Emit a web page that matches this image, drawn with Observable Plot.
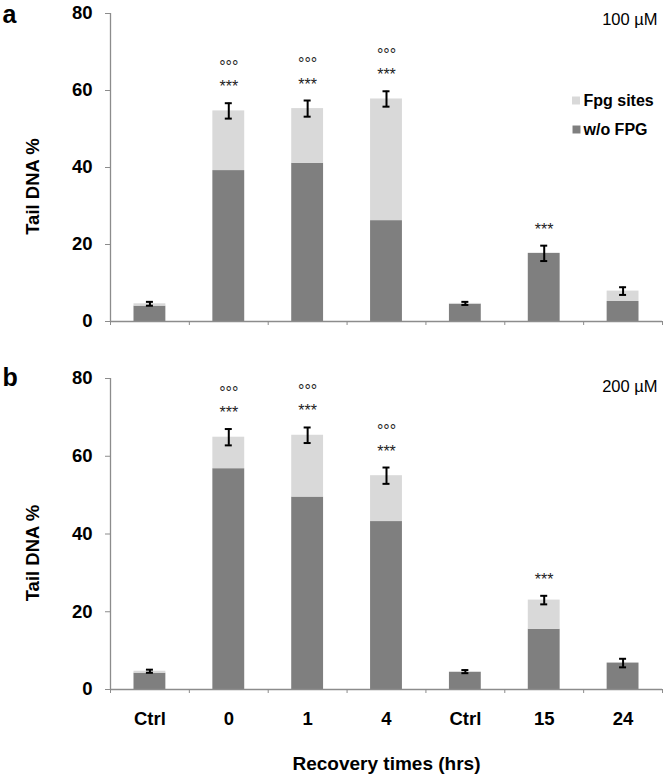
<!DOCTYPE html>
<html>
<head>
<meta charset="utf-8">
<script src="https://cdn.jsdelivr.net/npm/d3@7"></script>
<script src="https://cdn.jsdelivr.net/npm/@observablehq/plot@0.6"></script>
<style>
  html, body { margin: 0; padding: 0; background: #fff; }
  #chart { width: 665px; }
  #chart svg { display: block; overflow: visible; }
  g[aria-label="y-axis tick"], g[aria-label="x-axis tick"] { stroke: #8c8c8c; }
</style>
</head>
<body>
<div id="chart"></div>
<script>
// ---- data ----
const categories = ["Ctrl", "0", "1", "4", "Ctrl", "15", "24"];
const seriesNames = ["Fpg sites", "w/o FPG"];
const yTicks = [0, 20, 40, 60, 80];

// Panel a (100 µM)
const darkA = [4.0, 39.2, 41.1, 26.2, 4.5, 17.7, 5.2];
const fpgA  = [0.6, 15.5, 14.2, 31.6, 0.2, 0.0, 2.7];
const errA  = [0.5, 2.0, 2.1, 2.0, 0.4, 2.0, 1.0];
const starsA   = ["", "***", "***", "***", "", "***", ""];
const circlesA = ["", "°°°", "°°°", "°°°", "", "", ""];

// Panel b (200 µM)
const darkB = [4.2, 56.8, 49.5, 43.2, 4.4, 15.5, 6.8];
const fpgB  = [0.5, 8.1, 15.9, 11.8, 0.2, 7.5, 0.0];
const errB  = [0.4, 2.1, 2.0, 2.1, 0.4, 1.1, 1.1];
const starsB   = ["", "***", "***", "***", "", "***", ""];
const circlesB = ["", "°°°", "°°°", "°°°", "", "", ""];

const DARK = "#7f7f7f", LIGHT = "#d9d9d9", AXIS = "#8c8c8c";
const FONT = "'Liberation Sans', Arial, sans-serif";

function panel({dark, fpg, err, stars, circles, conc, letter, marginTop, height, marginBottom, showX, letterDy, concDy}) {
  const rows = categories.map((c, i) => ({
    i, cat: c, dark: dark[i], total: dark[i] + fpg[i], err: err[i],
    stars: stars[i], circles: circles[i]
  }));
  const inset = 23.5;
  const marks = [
    Plot.rect(rows, {x1: "i", x2: d => d.i + 1, y1: 0, y2: "dark", fill: DARK, insetLeft: inset, insetRight: inset}),
    Plot.rect(rows.filter(d => d.total > d.dark), {x1: "i", x2: d => d.i + 1, y1: "dark", y2: "total", fill: LIGHT, insetLeft: inset, insetRight: inset}),
    Plot.ruleY([0], {stroke: AXIS, strokeWidth: 1.3}),
    Plot.ruleX([0], {stroke: AXIS, strokeWidth: 1.3}),
    // error bars
    Plot.ruleX(rows, {x: d => d.i + 0.5, y1: d => d.total - d.err, y2: d => d.total + d.err, stroke: "black", strokeWidth: 2}),
    Plot.ruleY(rows, {y: d => d.total + d.err, x1: d => d.i + 0.5, x2: d => d.i + 0.5, insetLeft: -3.5, insetRight: -3.5, stroke: "black", strokeWidth: 2}),
    Plot.ruleY(rows, {y: d => d.total - d.err, x1: d => d.i + 0.5, x2: d => d.i + 0.5, insetLeft: -3.5, insetRight: -3.5, stroke: "black", strokeWidth: 2}),
    // significance marks
    Plot.text(rows.filter(d => d.stars), {x: d => d.i + 0.5, y: d => d.total + d.err, text: "stars", lineAnchor: "bottom", dy: -11, fontSize: 16, fill: "#222"}),
    Plot.text(rows.filter(d => d.circles), {x: d => d.i + 0.5, y: d => d.total + d.err, text: "circles", lineAnchor: "bottom", dy: -31.5, fontSize: 16, fill: "#222"}),
    // axes
    Plot.axisY({ticks: yTicks, tickSize: 5, tickPadding: 13, label: null, fontSize: 18.5, fontWeight: "bold", fill: "black"}),
    Plot.axisX({ticks: d3.range(categories.length + 1), tickSize: 4, tickFormat: () => "", label: null}),
    // labels
    Plot.text([letter], {frameAnchor: "top-left", dx: -108, dy: letterDy, lineAnchor: "bottom", textAnchor: "start", fontSize: 25, fontWeight: "bold", fill: "black"}),
    Plot.text([conc], {frameAnchor: "top-right", dx: -5, dy: concDy, lineAnchor: "middle", textAnchor: "end", fontSize: 16.5, fill: "black"}),
    Plot.text(["Tail DNA %"], {frameAnchor: "left", dx: -77, dy: 19, rotate: -90, lineAnchor: "middle", textAnchor: "middle", fontSize: 18.5, fontWeight: "bold", fill: "black"})
  ];
  if (showX) {
    marks.push(
      Plot.axisX({ticks: d3.range(categories.length).map(i => i + 0.5), tickSize: 0, tickPadding: 22, tickFormat: v => categories[Math.floor(v)], label: null, fontSize: 18.5, fontWeight: "bold", fill: "black"}),
      Plot.text(["Recovery times (hrs)"], {frameAnchor: "bottom", dy: 80, lineAnchor: "bottom", textAnchor: "middle", fontSize: 19, fontWeight: "bold", fill: "black"})
    );
  } else {
    // legend
    const legendFills = [LIGHT, DARK];
    seriesNames.forEach((name, k) => {
      marks.push(
        Plot.dot([name], {frameAnchor: "top-right", dx: -86.5 + 0.5 * k, dy: 87 + 29 * k, symbol: "square", r: 4.5, fill: legendFills[k], stroke: null}),
        Plot.text([name], {frameAnchor: "top-right", dx: -79, dy: 87 + 29 * k, lineAnchor: "middle", textAnchor: "start", fontSize: 16, fontWeight: "bold", fill: "black"})
      );
    });
  }
  return Plot.plot({
    width: 665, height, marginTop, marginBottom, marginLeft: 110, marginRight: 3,
    style: {fontFamily: FONT, background: "white", overflow: "visible"},
    x: {domain: [0, categories.length], axis: null},
    y: {domain: [0, 80], axis: null},
    marks
  });
}

const chart = document.getElementById("chart");
chart.append(panel({dark: darkA, fpg: fpgA, err: errA, stars: starsA, circles: circlesA, conc: "100 µM", letter: "a",
  marginTop: 13, height: 340, marginBottom: 19, showX: false, letterDy: 9, concDy: 6}));
chart.append(panel({dark: darkB, fpg: fpgB, err: errB, stars: starsB, circles: circlesB, conc: "200 µM", letter: "b",
  marginTop: 38, height: 439, marginBottom: 90, showX: true, letterDy: 7, concDy: 8}));
</script>
</body>
</html>
